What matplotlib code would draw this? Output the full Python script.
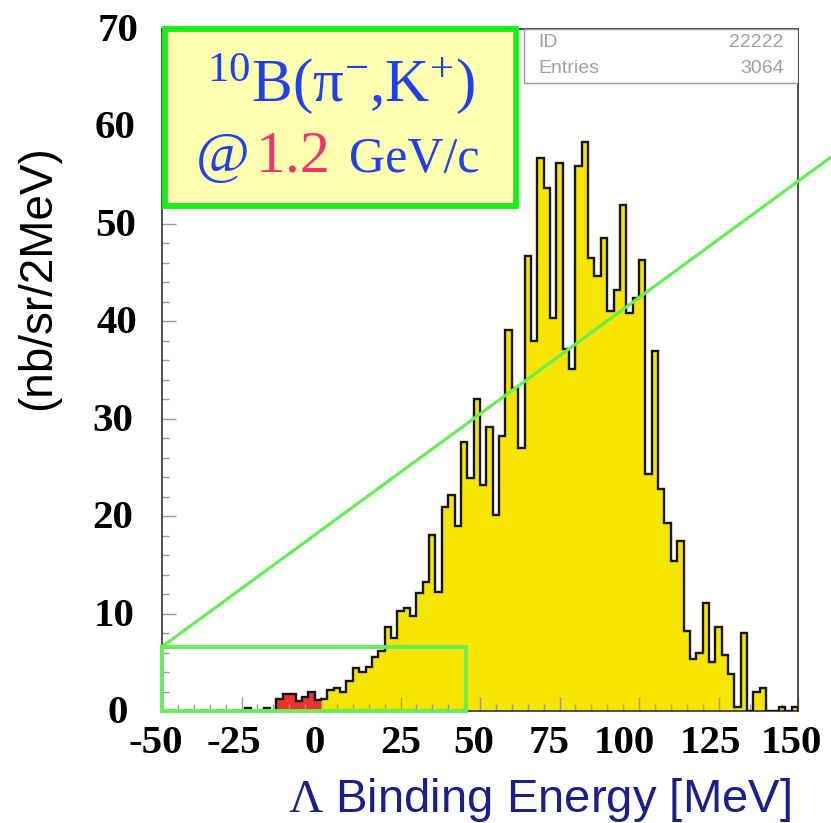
import numpy as np
import matplotlib.pyplot as plt
import matplotlib.transforms as mtransforms
from matplotlib.patches import Rectangle
from matplotlib.ticker import MultipleLocator

plt.rcParams['mathtext.fontset'] = 'custom'
plt.rcParams['mathtext.rm'] = 'Liberation Serif'
plt.rcParams['mathtext.it'] = 'Liberation Serif:italic'

W, H = 831, 823

# Lambda binding energy spectrum, 2 MeV bins starting at -50 MeV
bin_lo = -50
bin_width = 2
counts = [
    0, 0, 0, 0, 0, 0, 0, 0, 0, 0, 0, 0, 0,          # -50 .. -26
    0.3, 0, 0, 0.3, 0,                               # -24 .. -16
    1.2, 1.7, 1.7, 1.0, 1.4, 1.9, 1.1,               # -14 .. -2
    1.2, 2.2, 2.4, 2.0, 3.1, 4.4, 4.0, 4.5, 5.5, 6.2,
    8.6, 7.5, 10.3, 10.6, 9.7, 12.1, 13.2, 18.1, 12.2, 20.9,
    22.2, 19.0, 27.6, 23.9, 32.0, 23.2, 29.2, 20.1, 28.2, 39.1,
    33.2, 27.0, 46.7, 38.0, 56.8, 53.7, 40.3, 56.2, 37.2, 35.1,
    55.9, 58.4, 46.5, 44.6, 48.5, 41.1, 43.2, 51.9, 40.9, 42.4,
    46.3, 24.3, 37.0, 22.8, 19.3, 15.4, 17.4, 8.2, 5.3, 6.0,
    11.1, 5.0, 8.6, 5.7, 3.8, 0.45, 8.0, 0, 2.0, 2.4,
    0, 0, 0.45, 0, 0.45,
]
# bound-state region shaded red
bound_lo, bound_hi = -14, 0

xticks = [-50, -25, 0, 25, 50, 75, 100, 125, 150]
yticks = [0, 10, 20, 30, 40, 50, 60, 70]

# zoom box on the low-energy tail and the guide line leaving it
zoom_x = (-50, 45.5)
zoom_ymax = 6.6
guide_end = (161, 57.0)

stats = [('ID', '22222'), ('Entries', '3064')]


def fx(px):
    return px / W


def fy(py):
    return 1 - py / H


def nudge(label, dx, dy=0):
    # shift a tick label by a few pixels
    off = mtransforms.ScaledTranslation(dx / 100, -dy / 100, fig.dpi_scale_trans)
    label.set_transform(label.get_transform() + off)


counts = np.array(counts)
edges = np.arange(bin_lo, bin_lo + bin_width * (len(counts) + 1), bin_width)

fig = plt.figure(figsize=(W / 100, H / 100), dpi=100)
ax = fig.add_axes([fx(162), fy(711), fx(798) - fx(162), fy(29) - fy(711)])

ax.stairs(counts, edges, fill=True, color='#f5e500', lw=0)
i0 = (bound_lo - bin_lo) // bin_width
i1 = (bound_hi - bin_lo) // bin_width
ax.stairs(counts[i0:i1], edges[i0:i1 + 1], fill=True, color='#e8352b', lw=0)
ax.stairs(counts, edges, color='#151515', lw=1.7, zorder=3)

ax.set_xlim(-50, 150)
ax.set_ylim(0, 70)
ax.xaxis.set_minor_locator(MultipleLocator(5))
ax.yaxis.set_minor_locator(MultipleLocator(2))
ax.set_xticks(xticks)
ax.set_yticks(yticks)
tick_font = dict(fontfamily='Liberation Serif', fontweight='bold', fontsize=29.5)
ax.set_xticklabels([str(t) for t in xticks], **tick_font)
ax.set_yticklabels([str(t) for t in yticks], **tick_font)
ax.tick_params(which='both', direction='in', color='#9a9a9a', width=1)
ax.tick_params(which='major', length=10)
ax.tick_params(which='minor', length=5)
ax.tick_params(axis='y', pad=18)
ax.tick_params(axis='x', pad=10)
for sp in ax.spines.values():
    sp.set_color('#333333')
    sp.set_linewidth(1.2)

# hand-placed look of the big tick numbers
for lbl, dx in zip(ax.get_xticklabels(), [-6, -8, -6, 0, -6, -10, -15, -8, -7]):
    nudge(lbl, dx)
for lbl, dx in zip(ax.get_yticklabels(), [-9, -2, -4, -4, 0, -1, -1, 2]):
    nudge(lbl, dx, -2)

# statistics box
ax.add_patch(Rectangle((0.569, 0.921), 0.431, 0.079, transform=ax.transAxes,
                       fc='white', ec='#9a9a9a', lw=1, zorder=4))
for k, (name, val) in enumerate(stats):
    yy = 0.980 - k * 0.038
    ax.text(0.591, yy, name, transform=ax.transAxes, ha='left', va='center',
            fontsize=14, color='#a0a0a0', family='Liberation Sans', zorder=5)
    ax.text(0.977, yy, val, transform=ax.transAxes, ha='right', va='center',
            fontsize=14, color='#a0a0a0', family='Liberation Sans', zorder=5)

# green zoom box and guide line
ax.add_patch(Rectangle((zoom_x[0], 0), zoom_x[1] - zoom_x[0], zoom_ymax,
                       fill=False, ec='#66ee55', lw=2.8, clip_on=False, zorder=5))
ax.plot([zoom_x[0], guide_end[0]], [zoom_ymax, guide_end[1]],
        color='#66ee55', lw=2.3, clip_on=False, zorder=5)

# reaction label
fig.add_artist(Rectangle((fx(164.5), fy(206)), fx(515.5) - fx(164.5), fy(29) - fy(206),
                         transform=fig.transFigure, fc='#ffffb0', ec='#1aee1a',
                         lw=4.2, zorder=5))
blue = '#2040f0'
fig.text(fx(340.5), fy(101), r'$^{10}$B(π$^{-}$,K$^{+}$)', ha='center', va='baseline',
         fontsize=44, color=blue, family='Liberation Serif', zorder=6)
fig.text(fx(196), fy(172), '@', ha='left', va='baseline',
         fontsize=42, color=blue, family='Liberation Serif', zorder=6)
fig.text(fx(256), fy(172), '1.2', ha='left', va='baseline',
         fontsize=43, color='#f0336b', family='Liberation Serif', zorder=6)
fig.text(fx(349), fy(172), 'GeV/c', ha='left', va='baseline',
         fontsize=36, color=blue, family='Liberation Serif', zorder=6)

fig.text(fx(38), fy(278), '(nb/sr/2MeV)', rotation=90, ha='center', va='center',
         fontsize=33, family='Liberation Sans', color='black')
fig.text(fx(540), fy(800), r'$\Lambda$ Binding Energy [MeV]', ha='center', va='center',
         fontsize=34, family='Liberation Sans', color='#1b1f8a')

fig.savefig('out.png', dpi=100)
